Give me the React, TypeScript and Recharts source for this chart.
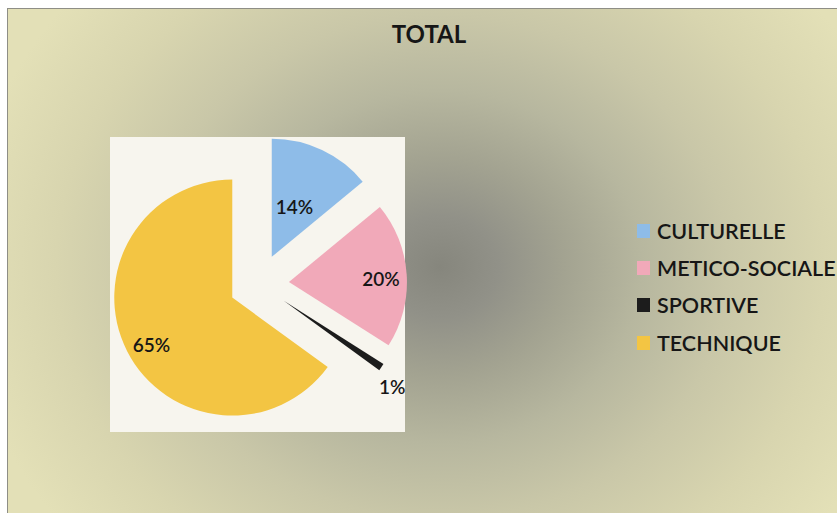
import React from 'react';
import { PieChart, Pie, Cell, Legend } from 'recharts';

// ---- data ----
const title = 'TOTAL';
const categories = ['CULTURELLE', 'METICO-SOCIALE', 'SPORTIVE', 'TECHNIQUE'];
const shares = [14, 20, 1, 65];
const colors = ['#8ebce8', '#f1a9b9', '#1c1c1c', '#f3c543'];

const data = categories.map((name, i) => ({ name, value: shares[i] }));

// ---- layout / style ----
const W = 837;
const H = 513;
const CX = 259;
const CY = 284;
const R = 118;
const EXPLODE = 30;
const LABEL_R = [0.47, 0.78, 1.17, 0.79];
const LABEL_DA = [1, -1.5, -4, 3];
const FONT = 'Lato, "Open Sans", "DejaVu Sans", sans-serif';
const TEXT = '#161616';

const total = shares.reduce((a, b) => a + b, 0);
// exploded centres, pushed out along each slice's mid angle (clockwise from 12 o'clock)
const offsets = shares.map((v, i) => {
  const before = shares.slice(0, i).reduce((a, b) => a + b, 0);
  const mid = ((before + v / 2) / total) * 2 * Math.PI;
  return { dx: EXPLODE * Math.sin(mid), dy: -EXPLODE * Math.cos(mid) };
});

const RAD = Math.PI / 180;
const makeLabel = (k: number) => (props: any) => {
  if (props.index !== k) return <g />;
  const r = props.outerRadius * LABEL_R[k];
  const a = (props.midAngle + LABEL_DA[k]) * RAD;
  const x = props.cx + r * Math.cos(-a);
  const y = props.cy + r * Math.sin(-a);
  return (
    <text
      x={x}
      y={y}
      textAnchor="middle"
      dominantBaseline="central"
      fontFamily={FONT}
      fontSize={19}
      fontWeight={600}
      fill={TEXT}
    >
      {`${Math.round(props.percent * 100)}%`}
    </text>
  );
};

const LegendBox = () => (
  <div style={{ fontFamily: FONT }}>
    {categories.map((name, i) => (
      <div
        key={name}
        style={{ display: 'flex', alignItems: 'center', height: 37.3 }}
      >
        <span
          style={{
            display: 'inline-block',
            width: 13,
            height: 14,
            background: colors[i],
            marginRight: 7,
          }}
        />
        <span
          style={{
            fontSize: 21.5,
            fontWeight: 600,
            color: TEXT,
            whiteSpace: 'nowrap',
            lineHeight: '24px',
          }}
        >
          {name}
        </span>
      </div>
    ))}
  </div>
);

export default function App() {
  return (
    <div
      style={{
        position: 'absolute',
        left: 0,
        top: 0,
        width: W,
        height: H,
        background: '#ffffff',
        overflow: 'hidden',
      }}
    >
      <div
        style={{
          position: 'absolute',
          left: 7,
          top: 8,
          width: W,
          height: H,
          borderTop: '1px solid #8e8e86',
          borderLeft: '1px solid #8e8e86',
          background:
            'radial-gradient(ellipse 480px 420px at 432px 258px, #86867d 0%, #919188 12%, #a3a391 26%, #b7b79f 42%, #c9c7a8 60%, #d8d5af 80%, #e3e0b7 100%)',
        }}
      />
      <div
        style={{
          position: 'absolute',
          left: 110,
          top: 137,
          width: 295,
          height: 295,
          background: '#f7f5ee',
        }}
      />
      <div
        style={{
          position: 'absolute',
          left: 329,
          top: 21,
          width: 200,
          textAlign: 'center',
          fontFamily: FONT,
          fontSize: 24,
          fontWeight: 700,
          lineHeight: '26px',
          color: TEXT,
        }}
      >
        {title}
      </div>
      <div style={{ position: 'absolute', left: 0, top: 0 }}>
        <PieChart width={W} height={H} margin={{ top: 0, right: 0, bottom: 0, left: 0 }}>
          {categories.map((_, k) => (
            <Pie
              key={k}
              data={data}
              dataKey="value"
              nameKey="name"
              cx={CX + offsets[k].dx}
              cy={CY + offsets[k].dy}
              outerRadius={R}
              innerRadius={0}
              startAngle={90}
              endAngle={-270}
              stroke="none"
              isAnimationActive={false}
              label={makeLabel(k)}
              labelLine={false}
              legendType="none"
            >
              {data.map((d, i) => (
                <Cell
                  key={d.name}
                  fill={i === k ? colors[i] : 'transparent'}
                  stroke="none"
                />
              ))}
            </Pie>
          ))}
          <Legend
            content={() => <LegendBox />}
            wrapperStyle={{ position: 'absolute', left: 637, top: 212, width: 220 }}
          />
        </PieChart>
      </div>
    </div>
  );
}
